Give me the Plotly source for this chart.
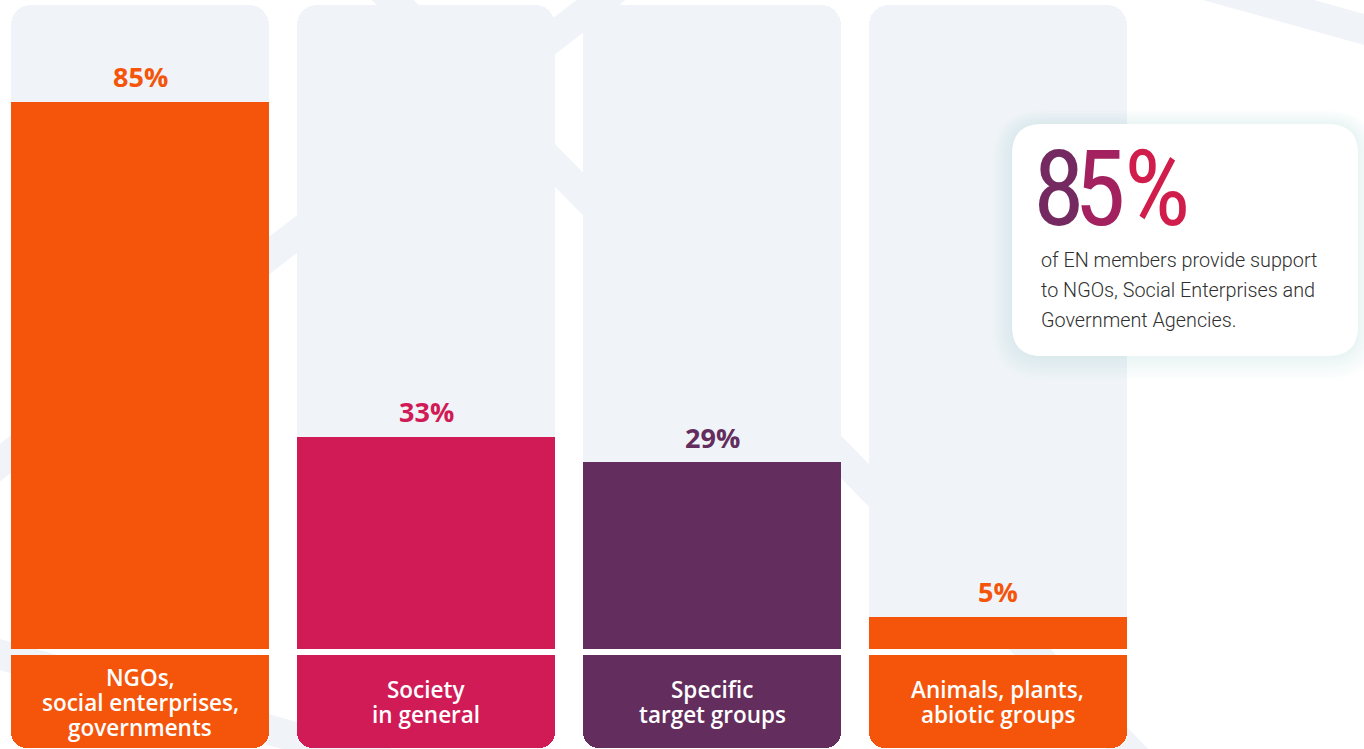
import plotly.graph_objects as go

# Support categories and the share of EN members supporting each
categories = ["NGOs,<br>social enterprises,<br>governments",
              "Society<br>in general",
              "Specific<br>target groups",
              "Animals, plants,<br>abiotic groups"]
shares = [85, 33, 29, 5]
value_labels = ["85%", "33%", "29%", "5%"]
bar_colors = ["#F4550B", "#D01B56", "#632D5D", "#F4550B"]

# Headline callout
headline_chars = ["8", "5", "%"]
headline_colors = ["#742961", "#A2215E", "#D01D4C"]
callout_lines = ["of EN members provide support",
                 "to NGOs, Social Enterprises and",
                 "Government Agencies."]

W, H = 1364, 749
X_RANGE = [-0.49, 4.28]
Y_RANGE = [-15.55, 100.85]
BAR_W = 0.902
COL_BG = "#F0F4F8"
LABEL_TOP = -1.0
LABEL_BOTTOM = -15.45
LABEL_MID = -8.0

xs = list(range(len(categories)))


def px(x, y):
    return x / W, 1 - y / H


def rrect(x0, y0, x1, y1, r):
    def p(x, y):
        a, b = px(x, y)
        return f"{a:.5f},{b:.5f}"
    return (f"M{p(x0 + r, y0)} L{p(x1 - r, y0)} Q{p(x1, y0)} {p(x1, y0 + r)} "
            f"L{p(x1, y1 - r)} Q{p(x1, y1)} {p(x1 - r, y1)} L{p(x0 + r, y1)} "
            f"Q{p(x0, y1)} {p(x0, y1 - r)} L{p(x0, y0 + r)} Q{p(x0, y0)} {p(x0 + r, y0)} Z")


fig = go.Figure()

# full-height column backgrounds
fig.add_trace(go.Bar(x=xs, y=[100] * len(xs), width=BAR_W,
                     marker=dict(color=COL_BG, line=dict(width=0), cornerradius=20),
                     hoverinfo="skip", showlegend=False))
# values
fig.add_trace(go.Bar(x=xs, y=shares, width=BAR_W,
                     marker=dict(color=bar_colors, line=dict(width=0)),
                     hoverinfo="skip", showlegend=False))
# category label boxes: rounded at the bottom, square where they meet the columns
fig.add_trace(go.Bar(x=xs, y=[LABEL_TOP - LABEL_BOTTOM] * len(xs), base=[LABEL_BOTTOM] * len(xs),
                     width=BAR_W,
                     marker=dict(color=bar_colors, line=dict(width=0), cornerradius=16),
                     hoverinfo="skip", showlegend=False))
fig.add_trace(go.Bar(x=xs, y=[LABEL_TOP - LABEL_MID] * len(xs), base=[LABEL_MID] * len(xs),
                     width=BAR_W,
                     marker=dict(color=bar_colors, line=dict(width=0)),
                     hoverinfo="skip", showlegend=False))

shapes = []
# faint network lines in the background
bg_lines = [((-20, 478), (640, -30)),
            ((380, -13), (1150, 772)),
            ((1180, -22), (1380, 34)),
            ((-20, 649), (620, 828))]
for (a, b) in bg_lines:
    x0, y0 = px(*a)
    x1, y1 = px(*b)
    shapes.append(dict(type="line", xref="paper", yref="paper", x0=x0, y0=y0, x1=x1, y1=y1,
                       line=dict(color=COL_BG, width=30), layer="below"))

# callout card with soft shadow
bx0, by0, bx1, by1, br = 1012, 124, 1358, 356, 30
for k in range(2, 22, 2):
    shapes.append(dict(type="path", xref="paper", yref="paper",
                       path=rrect(bx0 - k, by0 - k * 0.7, bx1 + k, by1 + k * 1.2, br + k),
                       fillcolor="rgba(60,70,90,0.009)", line=dict(width=0), layer="above"))
shapes.append(dict(type="path", xref="paper", yref="paper",
                   path=rrect(bx0, by0, bx1, by1, br),
                   fillcolor="#FFFFFF", line=dict(width=0), layer="above"))

annotations = []
# percentage labels above the bars
for i, (v, t, c) in enumerate(zip(shares, value_labels, bar_colors)):
    annotations.append(dict(x=i, y=v, xref="x", yref="y", text=t, showarrow=False,
                            yanchor="middle", yshift=25,
                            font=dict(family="Open Sans", size=27, color=c, weight=700)))

# category names inside the label boxes
for i, name in enumerate(categories):
    lines = name.split("<br>")
    n = len(lines)
    for j, ln in enumerate(lines):
        cy = 702 + (j - (n - 1) / 2) * 25
        annotations.append(dict(x=i, y=px(0, cy)[1], xref="x", yref="paper", text=ln,
                                showarrow=False, yanchor="middle", xanchor="center",
                                font=dict(family="Open Sans", size=22.5, color="#FFFFFF",
                                          weight=600)))

# headline figure in the callout
for ch, col, cx in zip(headline_chars, headline_colors, [1059, 1100, 1157]):
    ax, ay = px(cx, 190)
    annotations.append(dict(x=ax, y=ay, xref="paper", yref="paper", text=ch, showarrow=False,
                            xanchor="center", yanchor="middle",
                            font=dict(family="Liberation Sans Narrow, Roboto Condensed, Roboto",
                                      size=105, color=col)))

for j, ln in enumerate(callout_lines):
    ax, ay = px(1039, 261 + j * 29.5)
    annotations.append(dict(x=ax, y=ay, xref="paper", yref="paper", text=ln, showarrow=False,
                            xanchor="left", yanchor="middle",
                            font=dict(family="Roboto", size=19.8, color="#2F2F2F", weight=300)))

fig.update_layout(
    width=W, height=H, margin=dict(l=0, r=0, t=0, b=0),
    paper_bgcolor="#FFFFFF", plot_bgcolor="rgba(0,0,0,0)",
    barmode="overlay", bargap=0,
    xaxis=dict(range=X_RANGE, visible=False, fixedrange=True),
    yaxis=dict(range=Y_RANGE, visible=False, fixedrange=True),
    shapes=shapes, annotations=annotations, showlegend=False,
)

fig.write_html("out.html", config={"displayModeBar": False})
